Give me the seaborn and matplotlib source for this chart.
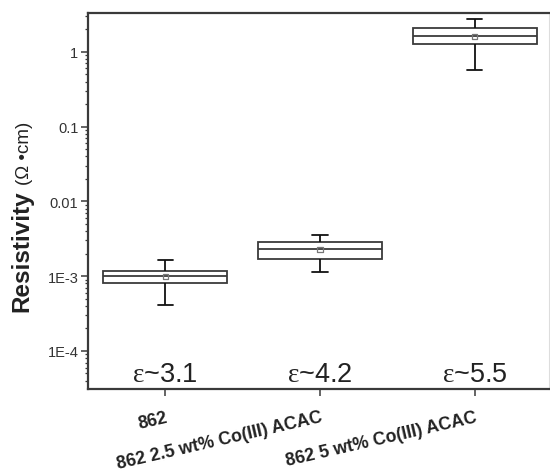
import matplotlib
matplotlib.use("Agg")
import matplotlib.pyplot as plt
import matplotlib.transforms as mtransforms
from matplotlib.ticker import LogLocator, FixedLocator, NullFormatter
import numpy as np
import pandas as pd
import seaborn as sns

# Sample groups and their measured resistivity summaries (Ohm*cm)
categories = ["862", "862 2.5 wt% Co(III) ACAC", "862 5 wt% Co(III) ACAC"]
# min, Q1, median, Q3, max for each sample group
res_862 = [4.1e-4, 8.1e-4, 1.00e-3, 1.17e-3, 1.63e-3]
res_25 = [1.12e-3, 1.72e-3, 2.31e-3, 2.86e-3, 3.56e-3]
res_50 = [0.57, 1.26, 1.62, 2.07, 2.75]
# arithmetic mean of each group
mean_vals = [1.00e-3, 2.27e-3, 1.62]
permittivity = ["3.1", "4.2", "5.5"]

ytick_vals = [1e-4, 1e-3, 1e-2, 1e-1, 1]
ytick_labels = ["1E-4", "1E-3", "0.01", "0.1", "1"]

df = pd.DataFrame({
    "sample": np.repeat(categories, 5),
    "resistivity": res_862 + res_25 + res_50,
})

sns.set_theme(style="ticks")
plt.rcParams["font.family"] = ["Liberation Sans", "DejaVu Sans"]
plt.rcParams["mathtext.fontset"] = "custom"
plt.rcParams["mathtext.rm"] = "Liberation Serif"

fig = plt.figure(figsize=(5.5, 4.77), dpi=100)
ax = fig.add_axes([0.16, 0.1824, 0.838, 0.7882])

edge = "#3a3a3a"
sns.boxplot(
    data=df, x="sample", y="resistivity", ax=ax,
    order=categories, whis=(0, 100), width=0.8, log_scale=True,
    color="white", linecolor=edge, linewidth=1.3,
    whiskerprops=dict(color="#111111", linewidth=1.3),
    capprops=dict(color="#111111", linewidth=1.3),
    capwidths=0.1,
)

# Mean of each group as a small open square
ax.scatter(range(len(categories)), mean_vals, marker="s", s=14,
           facecolors="none", edgecolors="#777777", linewidths=0.9, zorder=5)

ax.set_xlim(-0.5, 2.48)
ax.set_ylim(3.1e-5, 3.3)
ax.yaxis.set_major_locator(FixedLocator(ytick_vals))
ax.set_yticklabels(ytick_labels)
ax.yaxis.set_minor_locator(LogLocator(base=10, subs=np.arange(2, 10)))
ax.yaxis.set_minor_formatter(NullFormatter())

ax.tick_params(axis="y", which="major", direction="out", length=5, width=1.1,
               labelsize=10.5, labelcolor="#333333", color=edge, pad=2)
ax.tick_params(axis="y", which="minor", direction="out", length=2.5, width=0.9,
               color=edge)
ax.tick_params(axis="x", which="major", direction="out", length=5, width=1.1,
               color=edge, pad=9)

ax.set_xticks(range(len(categories)))
ax.set_xticklabels(categories, rotation=13, ha="right", rotation_mode="anchor",
                   fontsize=12.8, fontweight="bold", color="#222222")

for side in ["left", "bottom", "top"]:
    ax.spines[side].set_color(edge)
    ax.spines[side].set_linewidth(1.6)
ax.spines["right"].set_color("#dddddd")
ax.spines["right"].set_linewidth(0.8)

ax.set_xlabel("")
ax.set_ylabel("")

# Dielectric constant of each sample written along the bottom of the plot
trans = mtransforms.blended_transform_factory(ax.transData, ax.transAxes)
for i, eps in enumerate(permittivity):
    ax.text(i, 0.022, f"$\\mathrm{{ε}}$~{eps}", transform=trans,
            ha="center", va="baseline", fontsize=19.5, color="#222222")

# Axis title: bold quantity followed by lighter unit
fig.text(0.039, 0.346, "Resistivity", rotation=90, ha="center", va="bottom",
         fontsize=17.5, fontweight="bold", color="#222222")
fig.text(0.045, 0.612, "(Ω •cm)", rotation=90, ha="center", va="bottom",
         fontsize=13.5, color="#222222")

fig.savefig("out.png", dpi=100)
